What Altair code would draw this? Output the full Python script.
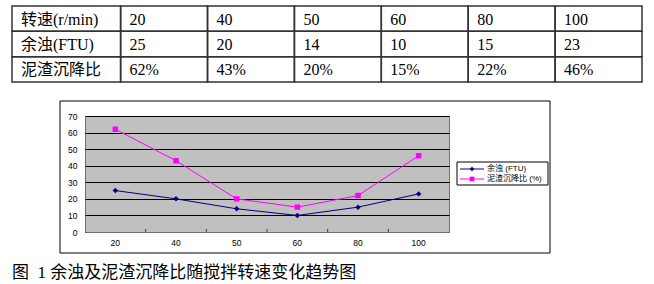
import altair as alt
import pandas as pd

# ---- data ----
speeds = ["20", "40", "50", "60", "80", "100"]          # 转速 r/min
turbidity = [25, 20, 14, 10, 15, 23]                    # 余浊 FTU
settling = [62, 43, 20, 15, 22, 46]                     # 泥渣沉降比 %
row_labels = ["转速(r/min)", "余浊(FTU)", "泥渣沉降比"]
series_names = ["余浊 (FTU)", "泥渣沉降比 (%)"]
y_ticks = [0, 10, 20, 30, 40, 50, 60, 70]
caption = "图\u00a0\u00a01\u00a0余浊及泥渣沉降比随搅拌转速变化趋势图"

# ---- styling ----
series_colors = ["#000080", "#FF00FF"]
series_shapes = ["diamond", "square"]
CJK = "'Liberation Serif', 'Noto Sans CJK SC'"
SMALL = "'Liberation Sans', 'Noto Sans CJK SC'"

# plot area is 364x116, placed at (85,116) on the 654x284 canvas
W, H = 364, 116
PAD = {"left": 85, "top": 116, "right": 654 - 85 - W, "bottom": 284 - 116 - H}

# ---- line chart ----
long_df = pd.DataFrame(
    [{"speed": s, "series": series_names[0], "value": v} for s, v in zip(speeds, turbidity)]
    + [{"speed": s, "series": series_names[1], "value": v} for s, v in zip(speeds, settling)]
)

x_enc = alt.X(
    "speed:N", sort=speeds,
    scale=alt.Scale(paddingInner=0, paddingOuter=0),
    axis=alt.Axis(title=None, labelAngle=0, ticks=False, grid=False,
                  domainColor="#707070", labelFont=SMALL, labelFontSize=8.5,
                  labelColor="#000", labelPadding=6),
)
y_enc = alt.Y(
    "value:Q",
    scale=alt.Scale(domain=[0, 70], nice=False, zero=True),
    axis=alt.Axis(title=None, values=y_ticks, ticks=False, domain=False,
                  grid=True, gridColor="#000", gridWidth=1, gridOpacity=1,
                  labelFont=SMALL, labelFontSize=8.5, labelColor="#000",
                  labelPadding=8),
)
color_enc = alt.Color("series:N", scale=alt.Scale(domain=series_names, range=series_colors), legend=None)
shape_enc = alt.Shape("series:N", scale=alt.Scale(domain=series_names, range=series_shapes), legend=None)

base = alt.Chart(long_df).encode(x=x_enc, y=y_enc, color=color_enc)
lines = base.mark_line(strokeWidth=1)
points = base.mark_point(filled=True, opacity=1, size=30).encode(shape=shape_enc)

ticks = alt.Chart(pd.DataFrame({"speed": speeds[1:]})).mark_rule(color="#404040").encode(
    x=alt.X("speed:N", sort=speeds, bandPosition=0),
    y=alt.value(H - 3), y2=alt.value(H),
)

plot = alt.layer(lines, points, ticks)

# ---- table above the chart ----
col_edges = [0, 1.25] + [1.25 + i for i in range(1, 7)]
table_rows = [
    [row_labels[0]] + speeds,
    [row_labels[1]] + [str(v) for v in turbidity],
    [row_labels[2]] + [f"{v}%" for v in settling],
]
cells = []
for r, texts in enumerate(table_rows):
    for c, t in enumerate(texts):
        cells.append({"x0": col_edges[c], "x1": col_edges[c + 1],
                      "y0": r, "y1": r + 1, "ym": r + 0.5, "text": t})
cell_df = pd.DataFrame(cells)

tx = alt.Scale(domain=[0, col_edges[-1]], range=[12 - 85, 642 - 85], nice=False, zero=False)
ty = alt.Scale(domain=[0, 3], range=[6 - 116, 82 - 116], nice=False, zero=False)

table_grid = alt.Chart(cell_df).mark_rect(fill=None, stroke="#333", strokeWidth=1.5).encode(
    x=alt.X("x0:Q", scale=tx, axis=None), x2="x1:Q",
    y=alt.Y("y0:Q", scale=ty, axis=None), y2="y1:Q",
)
table_text = alt.Chart(cell_df).mark_text(
    align="left", baseline="middle", dx=9, dy=1, font=CJK, fontSize=16, color="#000"
).encode(
    x=alt.X("x0:Q", scale=tx, axis=None),
    y=alt.Y("ym:Q", scale=ty, axis=None),
    text="text:N",
)
table = alt.layer(table_grid, table_text)

# ---- chart frame ----
frame = alt.Chart(pd.DataFrame({"k": [0]})).mark_rect(fill=None, stroke="#000", strokeWidth=1).encode(
    x=alt.value(60 - 85), x2=alt.value(550 - 85),
    y=alt.value(101 - 116), y2=alt.value(253 - 116),
)

# ---- legend ----
leg_df = pd.DataFrame({"series": series_names})
ly = alt.Scale(domain=series_names, range=[169 - 116, 179 - 116], type="point", padding=0)
lcolor = alt.Color("series:N", scale=alt.Scale(domain=series_names, range=series_colors), legend=None)
leg_box = alt.Chart(pd.DataFrame({"k": [0]})).mark_rect(fill="#fff", stroke="#000", strokeWidth=1).encode(
    x=alt.value(457 - 85), x2=alt.value(548 - 85),
    y=alt.value(162 - 116), y2=alt.value(185 - 116),
)
leg_line = alt.Chart(leg_df).mark_rule(strokeWidth=1).encode(
    x=alt.value(460 - 85), x2=alt.value(484 - 85),
    y=alt.Y("series:N", scale=ly, axis=None), color=lcolor,
)
leg_pt = alt.Chart(leg_df).mark_point(filled=True, opacity=1, size=22).encode(
    x=alt.value(472 - 85),
    y=alt.Y("series:N", scale=ly, axis=None), color=lcolor,
    shape=alt.Shape("series:N", scale=alt.Scale(domain=series_names, range=series_shapes), legend=None),
)
leg_txt = alt.Chart(leg_df).mark_text(align="left", baseline="middle", font=SMALL, fontSize=8, color="#000").encode(
    x=alt.value(487 - 85),
    y=alt.Y("series:N", scale=ly, axis=None), text="series:N",
)
legend = alt.layer(leg_box, leg_line, leg_pt, leg_txt)

# ---- caption ----
cap = alt.Chart(pd.DataFrame({"t": [caption]})).mark_text(
    align="left", baseline="middle", font=CJK, fontSize=17, color="#000"
).encode(x=alt.value(12 - 85), y=alt.value(273 - 116), text="t:N")

chart = alt.layer(plot, table, frame, legend, cap).resolve_scale(
    x="independent", y="independent", color="independent", shape="independent"
).properties(
    width=W, height=H, padding=PAD, autosize=alt.AutoSizeParams(type="none"),
    background="#ffffff",
).configure_view(fill="#C0C0C0", stroke="#707070", strokeWidth=1)

chart.save("out.html", embed_options={"renderer": "svg", "actions": False})
